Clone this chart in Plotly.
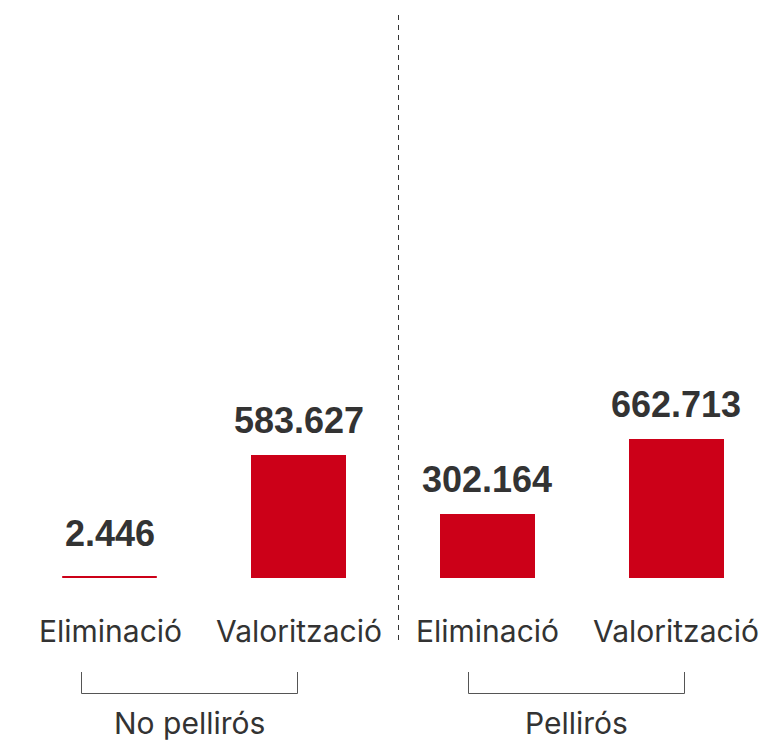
import plotly.graph_objects as go

# Data
groups = ["No pellirós", "No pellirós", "Pellirós", "Pellirós"]
categories = ["Eliminació", "Valorització", "Eliminació", "Valorització"]
values = [2.446, 583.627, 302.164, 662.713]
value_labels = ["2.446", "583.627", "302.164", "662.713"]
group_names = ["No pellirós", "Pellirós"]

W, H = 763, 742
M_T, M_B = 15, 164
PLOT_H = H - M_T - M_B
RED = "#cc0018"
DARK = "#333333"
LABEL_FONT = "Inter"
VALUE_FONT = "Liberation Sans"

xs = list(range(len(values)))


def py(pix):
    """Pixel row -> paper y coordinate."""
    return (H - M_B - pix) / PLOT_H


def px(pix):
    """Pixel column -> paper x coordinate."""
    return pix / W


# very small bars get a hairline outline so they remain visible
outline = [1 if v < 20 else 0 for v in values]

fig = go.Figure(
    go.Bar(
        x=xs,
        y=values,
        width=0.503,
        marker=dict(color=RED, line=dict(width=outline, color=RED)),
        hoverinfo="skip",
    )
)

annotations = []
# Value labels above bars
for x, v, lab in zip(xs, values, value_labels):
    annotations.append(dict(
        x=x, y=max(v, 48), xref="x", yref="y", text=f"<b>{lab}</b>",
        showarrow=False, yanchor="bottom", yshift=12,
        font=dict(family=VALUE_FONT, size=36, color=DARK),
    ))
# Category labels under bars
for x, c in zip(xs, categories):
    annotations.append(dict(
        x=x, y=py(631), xref="x", yref="paper", text=c,
        showarrow=False, yanchor="middle",
        font=dict(family=LABEL_FONT, size=30, color=DARK),
    ))

# Group brackets and names
shapes = []
bracket_spans = [(81.5, 297.5), (468.5, 684.5)]
for (a, b), name in zip(bracket_spans, group_names):
    shapes.append(dict(
        type="path", xref="paper", yref="paper",
        path=f"M {px(a)},{py(672)} L {px(a)},{py(693.5)} L {px(b)},{py(693.5)} L {px(b)},{py(672)}",
        line=dict(color="#555555", width=1),
    ))
    annotations.append(dict(
        x=px((a + b) / 2), y=py(723), xref="paper", yref="paper", text=name,
        showarrow=False, yanchor="middle", xanchor="center",
        font=dict(family=LABEL_FONT, size=30, color=DARK),
    ))

# Dashed divider between groups
shapes.append(dict(
    type="line", xref="paper", yref="paper",
    x0=px(398.5), x1=px(398.5), y0=py(15), y1=py(642),
    line=dict(color=DARK, width=1, dash="5px,5px"),
))

fig.update_layout(
    width=W, height=H,
    margin=dict(l=0, r=0, t=M_T, b=M_B),
    paper_bgcolor="white", plot_bgcolor="white",
    showlegend=False,
    xaxis=dict(range=[-0.583, 3.46], visible=False, fixedrange=True),
    yaxis=dict(range=[0, PLOT_H / 0.2102], visible=False, fixedrange=True),
    annotations=annotations,
    shapes=shapes,
    bargap=0,
)

fig.write_html("out.html", config={"displayModeBar": False})
